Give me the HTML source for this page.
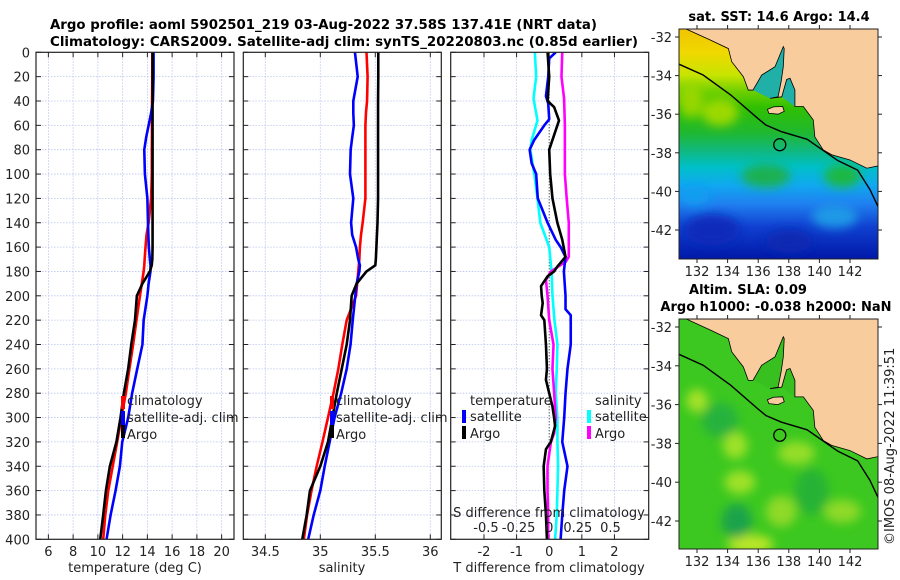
<!DOCTYPE html>
<html><head><meta charset="utf-8">
<style>
html,body{margin:0;padding:0;background:#fff;}
svg{display:block;font-family:"DejaVu Sans","Liberation Sans",sans-serif;}
</style></head>
<body>
<svg id="fig" width="900" height="580" viewBox="0 0 900 580" xmlns="http://www.w3.org/2000/svg">
<defs>
<clipPath id="cT"><rect x="36" y="52.3" width="198" height="487"/></clipPath>
<clipPath id="cS"><rect x="243.3" y="52.3" width="198" height="487"/></clipPath>
<clipPath id="cD"><rect x="450.7" y="52.3" width="198" height="487"/></clipPath>
<clipPath id="cM1"><rect x="679" y="29" width="199" height="230"/></clipPath>
<clipPath id="cM2"><rect x="679" y="319" width="199" height="230"/></clipPath>
<filter id="blur" x="-50%" y="-50%" width="200%" height="200%"><feGaussianBlur stdDeviation="5"/></filter>
<linearGradient id="sstGrad" x1="0" y1="0" x2="0" y2="1">
<stop offset="0" stop-color="#f0c400"/><stop offset="0.1" stop-color="#f0d800"/>
<stop offset="0.2" stop-color="#c8e400"/><stop offset="0.27" stop-color="#70d000"/>
<stop offset="0.34" stop-color="#30c000"/><stop offset="0.45" stop-color="#20b830"/>
<stop offset="0.53" stop-color="#10b880"/><stop offset="0.6" stop-color="#00c0c8"/>
<stop offset="0.68" stop-color="#10a8f0"/><stop offset="0.76" stop-color="#2080f0"/>
<stop offset="0.86" stop-color="#1040d0"/><stop offset="1" stop-color="#0018a8"/>
</linearGradient>
</defs>
<g id="title" font-weight="bold" font-size="13" fill="#000">
<text x="50" y="29" textLength="547" lengthAdjust="spacingAndGlyphs">Argo profile: aoml 5902501_219 03-Aug-2022 37.58S 137.41E (NRT data)</text>
<text x="50" y="46" textLength="588" lengthAdjust="spacingAndGlyphs">Climatology: CARS2009. Satellite-adj clim: synTS_20220803.nc (0.85d earlier)</text>
</g>
<g id="panels"></g>
<g id="maps"></g>
<text x="0" y="0" font-size="13" fill="#222" transform="translate(894,545) rotate(-90)">©IMOS 08-Aug-2022 11:39:51</text>
</svg>
<script>
// ---------- DATA ----------
const depthTicks = [0,20,40,60,80,100,120,140,160,180,200,220,240,260,280,300,320,340,360,380,400];
const tempTicks = [6,8,10,12,14,16,18,20];
const salTicks = [34.5,35,35.5,36];
const tdiffTicks = [-2,-1,0,1,2];
const sdiffTicks = [-0.5,-0.25,0,0.25,0.5];
const sdiffTickLabels = ["-0.5","-0.25","0","0.25","0.5"];

const profDepth = [0,20,40,50,60,70,80,100,120,140,150,160,170,175,180,190,200,220,240,260,280,300,320,340,360,380,400];
const argoTemp = [14.42,14.42,14.42,14.42,14.42,14.42,14.42,14.42,14.42,14.42,14.42,14.42,14.4,14.35,14.2,13.6,13.15,13.0,12.7,12.45,12.1,11.83,11.5,10.97,10.65,10.43,10.19];
const climTemp = [14.4,14.4,14.38,14.37,14.37,14.37,14.36,14.36,14.3,14.1,13.93,13.85,13.78,13.75,13.7,13.55,13.4,13.12,12.85,12.55,12.26,11.9,11.56,11.2,10.84,10.6,10.43];
const satTemp = [14.5,14.5,14.45,14.3,14.1,13.9,13.75,13.8,14.0,14.05,14.08,14.12,14.2,14.25,14.25,14.1,14.0,13.7,13.6,13.18,12.77,12.45,11.97,11.78,11.43,11.03,10.7];
const argoSal = [35.527,35.527,35.525,35.525,35.525,35.525,35.525,35.525,35.525,35.52,35.515,35.51,35.505,35.5,35.42,35.33,35.285,35.27,35.24,35.195,35.15,35.11,35.07,35.0,34.906,34.876,34.836];
const climSal = [35.42,35.43,35.425,35.415,35.41,35.41,35.41,35.41,35.41,35.385,35.37,35.36,35.355,35.35,35.345,35.335,35.325,35.24,35.2,35.164,35.12,35.07,35.02,34.967,34.92,34.88,34.85];
const satSal = [35.315,35.34,35.3,35.3,35.305,35.29,35.276,35.27,35.3,35.28,35.29,35.325,35.345,35.36,35.355,35.33,35.318,35.295,35.275,35.24,35.19,35.13,35.085,35.04,35.0,34.94,34.89];

const satTdDepth = [0,5,20,36,42,55,60,72,80,91,100,120,140,154,160,168,180,200,211,216,240,260,280,300,320,340,360,380,400];
const satTdiff = [0.2,0.0,-0.03,-0.1,-0.03,0,-0.15,-0.46,-0.6,-0.54,-0.4,-0.35,-0.05,0.2,0.35,0.5,0.45,0.5,0.5,0.66,0.66,0.56,0.5,0.46,0.4,0.56,0.46,0.4,0.35];
const argoTdDepth = [0,20,40,45,56,60,72,80,100,120,140,154,168,176,180,184,192,200,206,216,220,240,260,269,280,291,300,307,320,326,340,360,380,400];
const argoTdiff = [-0.05,0,-0.05,0.15,0.3,0.25,0.1,0,0.03,0.1,0.25,0.4,0.5,0.25,0.15,-0.05,-0.25,-0.23,-0.2,-0.25,-0.15,-0.1,-0.07,-0.1,0,0.1,0.15,0.18,0.05,-0.1,-0.17,-0.15,-0.1,-0.07];
const satSdDepth = [0,20,38,56,72,80,100,120,140,160,180,200,220,240,260,280,300,320,340,360,380,400];
const satSdiff = [-0.11,-0.1,-0.12,-0.09,-0.134,-0.145,-0.114,-0.09,-0.068,0,0.018,0.025,0.04,0.063,0.058,0.05,0.063,0.063,0.068,0.063,0.058,0.045];
const argoSdDepth = [0,20,38,60,80,100,120,140,154,168,172,180,187,200,220,240,260,280,300,313,320,340,360,380,400];
const argoSdiff = [0.1,0.094,0.114,0.12,0.12,0.12,0.134,0.15,0.15,0.15,0.127,0.013,-0.025,-0.013,0,0.033,0.025,0.038,0.05,0.038,0.013,-0.013,-0.013,-0.008,-0.008];

const mapLonTicks = [132,134,136,138,140,142];
const mapLatTicks = [-32,-34,-36,-38,-40,-42];
const argoLon = 137.41, argoLat = -37.58;

// ---------- HELPERS ----------
const NS = "http://www.w3.org/2000/svg";
function mk(tag, attrs, parent){ const e=document.createElementNS(NS,tag); for(const k in attrs) e.setAttribute(k,attrs[k]); if(parent) parent.appendChild(e); return e; }
const top0 = 52.3, bot0 = 539.3;
function yDepth(d){ return top0 + (d/400)*(bot0-top0); }
function linScale(d0,d1,r0,r1){ return v => r0 + (v-d0)/(d1-d0)*(r1-r0); }

const panels = document.getElementById('panels');
const xT = linScale(5,21,36,234);
const xS = linScale(34.3,36.1,243.3,441.3);
const xD = linScale(-3.02,3.05,450.7,648.7);
const xSD = v => xD(v*4);

function panelFrame(name, x0, x1, gridXs){
  const g = mk('g',{},panels);
  
  
  mk('rect',{x:x0,y:top0,width:x1-x0,height:bot0-top0,fill:'#fff'},g);
  const grid = mk('g',{stroke:'#b9c3ee','stroke-width':0.8,'stroke-dasharray':'1.5,1.5'},g);
  
  
  gridXs.forEach(x=>mk('line',{x1:x,x2:x,y1:top0,y2:bot0},grid));
  depthTicks.forEach(d=>{ if(d>0&&d<400) mk('line',{x1:x0,x2:x1,y1:yDepth(d),y2:yDepth(d)},grid); });
  const tk = mk('g',{stroke:'#222','stroke-width':1},g);
  depthTicks.forEach(d=>{ const y=yDepth(d); mk('line',{x1:x0,x2:x0+5,y1:y,y2:y},tk); mk('line',{x1:x1-5,x2:x1,y1:y,y2:y},tk); });
  gridXs.forEach(x=>{ mk('line',{x1:x,x2:x,y1:bot0,y2:bot0-5},tk); mk('line',{x1:x,x2:x,y1:top0,y2:top0+5},tk); });
  return g;
}
function drawLine(g, xs, ds, xf, color, name, clip, w){
  const pts = xs.map((v,i)=>xf(v).toFixed(2)+','+yDepth(ds[i]).toFixed(2)).join(' ');
  const p = mk('polyline',{points:pts,fill:'none',stroke:color,'stroke-width':w||2.6,'stroke-linejoin':'round','clip-path':'url(#'+clip+')'},g);
  
  
  return p;
}
function frameBorder(g,x0,x1){ mk('rect',{x:x0,y:top0,width:x1-x0,height:bot0-top0,fill:'none',stroke:'#222','stroke-width':1.2},g); }
function txt(g, x, y, s, attrs){ const t=mk('text',Object.assign({x:x,y:y,'font-size':13,fill:'#222'},attrs||{}),g); t.textContent=s; return t; }

// ---------- TEMPERATURE PANEL ----------
const gT = panelFrame('temperature-panel',36,234,tempTicks.map(xT));
drawLine(gT, climTemp, profDepth, xT, '#ff0000', 'temp-climatology-line','cT');
drawLine(gT, satTemp, profDepth, xT, '#0000ff', 'temp-satellite-line','cT');
drawLine(gT, argoTemp, profDepth, xT, '#000000', 'temp-argo-line','cT');
frameBorder(gT,36,234);
const yl = mk('g',{},panels);


depthTicks.forEach(d=>txt(yl,30,yDepth(d)+5,String(d),{'text-anchor':'end'}));
const xtl = mk('g',{},gT);


tempTicks.forEach(v=>txt(xtl,xT(v),556,String(v),{'text-anchor':'middle'}));
const tTitle = txt(gT,135,572,'temperature (deg C)',{'text-anchor':'middle'});



function profLegend(g, x, name){
  const lg = mk('g',{},g);
  
  
  mk('rect',{x:x,y:396,width:4,height:13,fill:'#ff0000'},lg);
  mk('rect',{x:x,y:411,width:4,height:14,fill:'#0000ff'},lg);
  mk('rect',{x:x,y:425,width:4,height:13,fill:'#000'},lg);
  txt(lg,x+6,405,'climatology');
  txt(lg,x+6,422,'satellite-adj. clim');
  txt(lg,x+6,439,'Argo');
}
profLegend(gT,121,'temperature-legend');

// ---------- SALINITY PANEL ----------
const gS = panelFrame('salinity-panel',243.3,441.3,salTicks.map(xS));
drawLine(gS, climSal, profDepth, xS, '#ff0000', 'sal-climatology-line','cS');
drawLine(gS, satSal, profDepth, xS, '#0000ff', 'sal-satellite-line','cS');
drawLine(gS, argoSal, profDepth, xS, '#000000', 'sal-argo-line','cS');
frameBorder(gS,243.3,441.3);
const xsl = mk('g',{},gS);


salTicks.forEach(v=>txt(xsl,xS(v),556,String(v),{'text-anchor':'middle'}));
const sTitle = txt(gS,342,572,'salinity',{'text-anchor':'middle'});


profLegend(gS,330,'salinity-legend');

// ---------- DIFFERENCE PANEL ----------
const gD = panelFrame('difference-panel',450.7,648.7,tdiffTicks.map(xD));
const zl = mk('line',{x1:xD(0),x2:xD(0),y1:top0,y2:yDepth(330),stroke:'#333','stroke-width':1,'stroke-dasharray':'1,2'},gD);


drawLine(gD, satSdiff, satSdDepth, xSD, '#00ffff', 'sdiff-satellite-line','cD');
drawLine(gD, argoSdiff, argoSdDepth, xSD, '#ff00ff', 'sdiff-argo-line','cD');
drawLine(gD, satTdiff, satTdDepth, xD, '#0000ff', 'tdiff-satellite-line','cD');
drawLine(gD, argoTdiff, argoTdDepth, xD, '#000000', 'tdiff-argo-line','cD');
frameBorder(gD,450.7,648.7);
const xdl = mk('g',{},gD);


tdiffTicks.forEach(v=>txt(xdl,xD(v),556,String(v),{'text-anchor':'middle'}));
const dTitle = txt(gD,549,572,'T difference from climatology',{'text-anchor':'middle'});


const sdl = mk('g',{},gD);


sdiffTicks.forEach((v,i)=>txt(sdl,xSD(v)+(v>0?-4:v<0?2:0),532,sdiffTickLabels[i],{'text-anchor':'middle'}));
const sdTitle = txt(gD,549,517,'S difference from climatology',{'text-anchor':'middle'});


const dl = mk('g',{},gD);


txt(dl,470,405,'temperature');
txt(dl,595,405,'salinity');
mk('rect',{x:462,y:410,width:4,height:13,fill:'#0000ff'},dl);
mk('rect',{x:462,y:426,width:4,height:13,fill:'#000'},dl);
mk('rect',{x:587,y:410,width:4,height:13,fill:'#00ffff'},dl);
mk('rect',{x:587,y:426,width:4,height:13,fill:'#ff00ff'},dl);
txt(dl,470,421,'satellite'); txt(dl,470,438,'Argo');
txt(dl,595,421,'satellite'); txt(dl,595,438,'Argo');

// ---------- MAPS ----------
const maps = document.getElementById('maps');
const coast = [[131.3,-31.5],[131.33,-31.6],[132.85,-32.15],[134.05,-32.6],[134.27,-33.28],[135.03,-34.06],[135.35,-34.75],[135.66,-34.75],[136.23,-33.97],[137.1,-33.54],[137.64,-32.5],[137.7,-32.6],[137.64,-33.54],[137.5,-34.3],[137.3,-35.1],[136.77,-35.18],[137.54,-35.1],[137.86,-34.2],[138.08,-34.14],[138.4,-34.75],[138.4,-35.6],[138.95,-35.6],[139.6,-36.3],[139.7,-37.17],[140.25,-37.85],[140.8,-38.1],[142.0,-38.37],[143.1,-38.8],[143.9,-38.67],[143.9,-31.5]];
const gulf = [[135.66,-34.75],[136.77,-35.18],[137.54,-35.1],[138.4,-35.6],[138.6,-32.0],[135.6,-32.0]];
const kangaroo = [[136.6,-35.75],[137.0,-35.62],[137.6,-35.6],[137.7,-35.85],[137.3,-36.0],[136.7,-35.95]];
const contour = [[130.8,-33.4],[132.4,-33.97],[134.2,-35.0],[135.95,-36.2],[136.5,-36.56],[137.5,-36.9],[139.2,-37.3],[141.2,-38.4],[142.5,-38.9],[143.3,-39.9],[143.9,-40.9]];
const sstBlobs = [[133.5,-35.9,1.2,0.7,'#a8dc00'],[131.6,-35.3,0.8,0.9,'#a0d800'],[136.5,-39.2,1.6,0.6,'#20b040'],[141.5,-39.2,1.2,0.6,'#20b830'],[131.8,-40.2,1.0,0.5,'#10a0f0'],[133.0,-42.0,1.8,0.8,'#0828b8'],[138.0,-42.6,1.5,0.6,'#0a28b0'],[141,-41.3,1.5,0.6,'#20a0e8']];
const slaBlobs = [[132,-35.8,0.7,0.6,'#b0e428'],[134.5,-38.1,0.8,0.7,'#a8e428'],[138.5,-38.5,1.2,0.6,'#a0e028'],[134.8,-40.0,1.0,0.6,'#a8e428'],[137.5,-41.5,1.0,0.8,'#98dc28'],[141.5,-41.5,1.2,0.6,'#98dc28'],[135.5,-43.2,1.5,0.5,'#c8ea28'],[133.5,-36.8,1.2,0.9,'#22b040'],[134.6,-42.0,1.0,0.9,'#18a050'],[139.5,-40.5,1.1,1.2,'#22b038']];

function makeMap(name, y0, y1, latTop, latBot, bgFill, gulfColor, blobs, clip, title, titleYs){
  const g = mk('g',{},maps);
  
  
  const lon2x = lon => 697 + (lon-132)*15.3;
  const lat2y = lat => latTop + (lat-(-32))/(-10)*(latBot-latTop);
  const inner = mk('g',{'clip-path':'url(#'+clip+')'},g);
  mk('rect',{x:679,y:y0,width:199,height:y1-y0,fill:bgFill},inner);
  const bg = mk('g',{filter:'url(#blur)'},inner);
  blobs.forEach(b=>{ mk('ellipse',{cx:lon2x(b[0]),cy:lat2y(b[1]),rx:b[2]*15.3,ry:b[3]*19.3,fill:b[4],opacity:0.9},bg); });
  mk('polygon',{points:gulf.map(p=>lon2x(p[0])+','+lat2y(p[1])).join(' '),fill:gulfColor},inner);
  const land = mk('polygon',{points:coast.map(p=>lon2x(p[0])+','+lat2y(p[1])).join(' '),fill:'#f9cc9e',stroke:'#000','stroke-width':0.8},inner);
  
  
  mk('polygon',{points:kangaroo.map(p=>lon2x(p[0])+','+lat2y(p[1])).join(' '),fill:'#f9cc9e',stroke:'#000','stroke-width':0.8},inner);
  const ct = mk('polyline',{points:contour.map(p=>lon2x(p[0])+','+lat2y(p[1])).join(' '),fill:'none',stroke:'#000','stroke-width':1.4},inner);
  
  
  const mk1 = mk('circle',{cx:lon2x(argoLon),cy:lat2y(argoLat),r:6,fill:'none',stroke:'#000','stroke-width':1.3},inner);
  
  
  mk('rect',{x:679,y:y0,width:199,height:y1-y0,fill:'none',stroke:'#222','stroke-width':1},g);
  mapLonTicks.forEach(l=>{ const x=lon2x(l); mk('line',{x1:x,x2:x,y1:y1,y2:y1+4,stroke:'#222'},g); mk('line',{x1:x,x2:x,y1:y0,y2:y0-4,stroke:'#222'},g); txt(g,x,y1+17,String(l),{'text-anchor':'middle'}); });
  mapLatTicks.forEach(l=>{ const y=lat2y(l); mk('line',{x1:679,x2:675,y1:y,y2:y,stroke:'#222'},g); mk('line',{x1:878,x2:882,y1:y,y2:y,stroke:'#222'},g); txt(g,672,y+5,String(l),{'text-anchor':'end'}); });
  title.forEach((t,i)=>{ const tt=txt(g,titleYs[i][0],titleYs[i][1],t,{'text-anchor':'middle','font-weight':'bold',fill:'#000'});   });
  return g;
}
makeMap('sst-map',29,259,37,230,'url(#sstGrad)','#20b0a8',sstBlobs,'cM1',['sat. SST: 14.6 Argo: 14.4'],[[779,21]]);
makeMap('sla-map',319,549,327,521,'#3cc820','#38c020',slaBlobs,'cM2',['Altim. SLA: 0.09','Argo h1000: -0.038 h2000: NaN'],[[748,294],[776,311]]);
</script>
</body></html>
